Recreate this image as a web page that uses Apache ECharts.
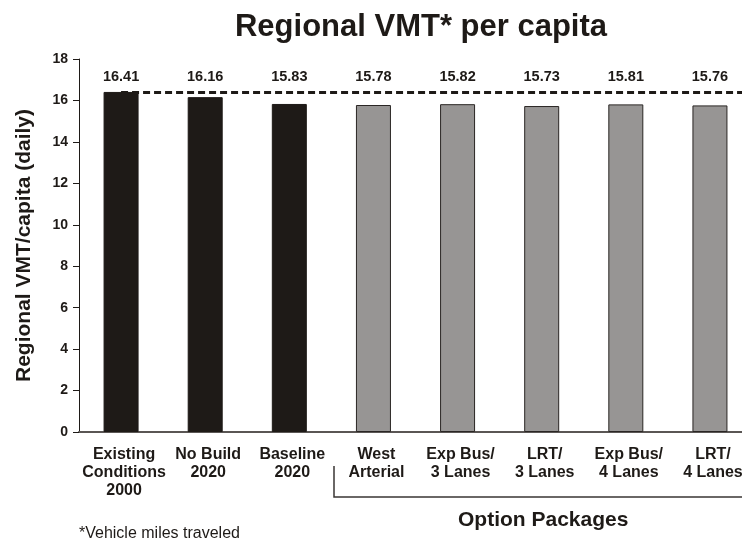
<!DOCTYPE html>
<html>
<head>
<meta charset="utf-8">
<script src="https://cdn.jsdelivr.net/npm/echarts@6/dist/echarts.min.js"></script>
<style>
  html, body { margin: 0; padding: 0; background: #fff; }
  #main { width: 742px; height: 545px; }
</style>
</head>
<body>
<div id="main"></div>
<script>
const categories = [
  'Existing\nConditions\n2000',
  'No Build\n2020',
  'Baseline\n2020',
  'West\nArterial',
  'Exp Bus/\n3 Lanes',
  'LRT/\n3 Lanes',
  'Exp Bus/\n4 Lanes',
  'LRT/\n4 Lanes',
]
const vmtValues = [16.41, 16.16, 15.83, 15.78, 15.82, 15.73, 15.81, 15.76]
// first three are the base scenarios (black), the rest are option packages (grey)
const baseCount = 3
const yTicks = { min: 0, max: 18, interval: 2 }

const font = "'Liberation Sans', Arial, Helvetica, sans-serif"
const chart = echarts.init(document.getElementById('main'))

const baseline = vmtValues[0]

chart.setOption({
  animation: false,
  textStyle: { fontFamily: font },
  title: {
    text: 'Regional VMT* per capita',
    left: 416,
    top: 7,
    textAlign: 'center',
    textStyle: { fontSize: 31, fontWeight: 'bold', color: '#1e1a17', fontFamily: font },
  },
  grid: {
    left: 79,
    top: 59,
    width: 673,
    height: 373,
    containLabel: false,
    outerBoundsMode: 'none',
  },
  xAxis: {
    type: 'category',
    data: categories,
    axisLine: { lineStyle: { color: '#5a5654', width: 2 } },
    axisTick: { show: false },
    axisLabel: {
      interval: 0,
      margin: 14,
      fontSize: 16,
      lineHeight: 18,
      fontWeight: 'bold',
      color: '#1e1a17',
      fontFamily: font,
      padding: [0, 0, 0, 6],
    },
  },
  yAxis: {
    type: 'value',
    min: yTicks.min,
    max: yTicks.max,
    interval: yTicks.interval,
    name: 'Regional VMT/capita (daily)',
    nameLocation: 'middle',
    nameRotate: 90,
    nameGap: 44,
    nameTextStyle: { fontSize: 21, fontWeight: 'bold', color: '#1e1a17', fontFamily: font },
    splitLine: { show: false },
    axisLine: { show: true, lineStyle: { color: '#1e1a17', width: 1 } },
    axisTick: { show: true, length: 6, lineStyle: { color: '#1e1a17' } },
    axisLabel: {
      margin: 11,
      fontSize: 14,
      fontWeight: 'bold',
      color: '#1e1a17',
      fontFamily: font,
    },
  },
  series: [
    {
      type: 'bar',
      barWidth: 35,
      data: vmtValues.map((v, i) => ({
        value: v,
        itemStyle: i < baseCount
          ? { color: '#1e1a17', borderColor: '#1e1a17', borderWidth: 1 }
          : { color: '#979594', borderColor: '#2a2624', borderWidth: 1 },
      })),
      label: {
        show: true,
        position: 'top',
        fontSize: 14.5,
        fontWeight: 'bold',
        color: '#1e1a17',
        fontFamily: font,
        formatter: (p) => p.value.toFixed(2),
      },
      // all value labels sit on one row just above the dashed reference line
      labelLayout: () => ({
        y: chart.convertToPixel({ yAxisIndex: 0 }, baseline) - 15,
        align: 'center',
        verticalAlign: 'middle',
      }),
    },
  ],
  graphic: [
    {
      type: 'polyline',
      shape: { points: [[334, 466], [334, 497], [742, 497]] },
      style: { stroke: '#3a3634', lineWidth: 1.5, fill: null },
    },
    {
      type: 'text',
      left: 458,
      top: 510,
      style: { text: 'Option Packages', font: 'bold 21px ' + font, fill: '#1e1a17' },
    },
    {
      type: 'text',
      left: 79,
      top: 526,
      style: { text: '*Vehicle miles traveled', font: '16px ' + font, fill: '#1e1a17' },
    },
  ],
})

// dashed reference line at the 2000 level, running from the first bar to the right edge
const baseY = chart.convertToPixel({ yAxisIndex: 0 }, baseline)
chart.setOption({
  series: [
    {
      markLine: {
        silent: true,
        symbol: 'none',
        label: { show: false },
        lineStyle: { color: '#1e1a17', type: [7, 4], width: 3 },
        data: [[{ coord: [categories[0], baseline] }, { x: '100%', y: baseY }]],
      },
    },
  ],
})
</script>
</body>
</html>
